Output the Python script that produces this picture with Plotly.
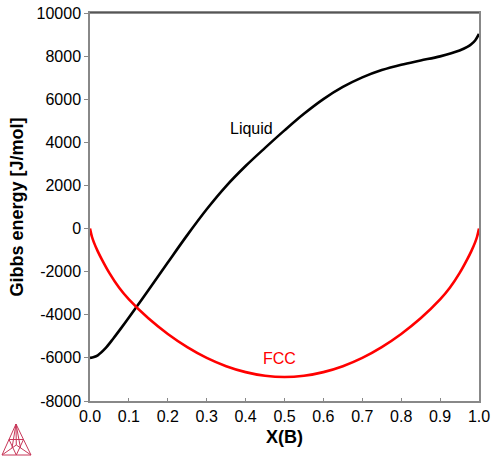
import plotly.graph_objects as go

# Liquid Gibbs energy curve (J/mol) vs X(B)
liq_x = [0.0, 0.01, 0.02, 0.04, 0.06, 0.08, 0.1, 0.15, 0.2, 0.25, 0.3, 0.35, 0.4, 0.45,
         0.5, 0.55, 0.6, 0.65, 0.7, 0.75, 0.8, 0.85, 0.9, 0.95, 0.97, 0.98, 0.99, 1.0]
liq_g = [-6000, -5960, -5880, -5550, -5100, -4620, -4125, -2860, -1575, -305, 895, 1970, 2900, 3742,
         4554, 5324, 6006, 6568, 7013, 7353, 7603, 7798, 7988, 8258, 8426, 8546, 8726, 9030]

# FCC Gibbs energy curve (J/mol) vs X(B)
fcc_x = [0.0, 0.005, 0.01, 0.02, 0.03, 0.05, 0.075, 0.1, 0.15, 0.2, 0.25, 0.3, 0.35, 0.4, 0.45, 0.5,
         0.55, 0.6, 0.65, 0.7, 0.75, 0.8, 0.85, 0.9, 0.925, 0.95, 0.97, 0.98, 0.99, 0.995, 1.0]
fcc_g = [0, -380, -640, -1060, -1420, -2070, -2750, -3290, -4165, -4890, -5500, -6000, -6385, -6660, -6830, -6890,
         -6830, -6660, -6385, -6000, -5500, -4890, -4165, -3290, -2750, -2070, -1420, -1060, -640, -380, 0]

x_ticks = [0.0, 0.1, 0.2, 0.3, 0.4, 0.5, 0.6, 0.7, 0.8, 0.9, 1.0]
x_tick_text = ["0.0", "0.1", "0.2", "0.3", "0.4", "0.5", "0.6", "0.7", "0.8", "0.9", "1.0"]
y_ticks = [-8000, -6000, -4000, -2000, 0, 2000, 4000, 6000, 8000, 10000]
y_tick_text = ["-8000", "-6000", "-4000", "-2000", "0", "2000", "4000", "6000", "8000", "10000"]

FONT = "Liberation Sans, Arial, sans-serif"

fig = go.Figure()
fig.add_trace(go.Scatter(x=liq_x, y=liq_g, mode="lines",
                         line=dict(color="black", width=2.6, shape="spline", smoothing=1.0),
                         name="Liquid", hoverinfo="skip"))
fig.add_trace(go.Scatter(x=fcc_x, y=fcc_g, mode="lines",
                         line=dict(color="#ff0000", width=2.6, shape="spline", smoothing=1.0),
                         name="FCC", hoverinfo="skip"))

fig.add_annotation(x=0.415, y=4650, text="Liquid", showarrow=False,
                   font=dict(family=FONT, size=16, color="black"))
fig.add_annotation(x=0.487, y=-6050, text="FCC", showarrow=False,
                   font=dict(family=FONT, size=16, color="#ff0000"))

# top frame line (dark)
fig.add_shape(type="line", xref="paper", yref="paper", x0=0, x1=1, y0=1, y1=1,
              line=dict(color="#222222", width=1.2))

# Thermo-Calc style logo (bottom-left)
def px2paper(px, py):
    return (px - 90) / 389.0, (401 - py) / 388.0

A = (16, 424); B = (2, 455); C = (31, 455); O = (16.3, 445)
tri_lines = [(A, B), (B, C), (C, A), (A, O), (B, O), (C, O),
             ((9, 439.5), (23.5, 439.5)), ((9, 439.5), (16.3, 455)), ((23.5, 439.5), (16.3, 455)),
             ((16, 424), (12, 448)), ((16, 424), (20.5, 448))]
for p, q in tri_lines:
    x0, y0 = px2paper(*p)
    x1, y1 = px2paper(*q)
    fig.add_shape(type="line", xref="paper", yref="paper", x0=x0, y0=y0, x1=x1, y1=y1,
                  line=dict(color="#c8385a", width=1))

fig.update_layout(
    width=492, height=463,
    margin=dict(l=90, r=13, t=13, b=62, autoexpand=False),
    paper_bgcolor="white", plot_bgcolor="white",
    showlegend=False,
    font=dict(family=FONT, size=16, color="black"),
)
fig.update_xaxes(range=[0, 1], tickvals=x_ticks, ticktext=x_tick_text, showgrid=False, zeroline=False,
                 showline=True, linecolor="#888888", linewidth=1.5, mirror=True, automargin=False,
                 ticks="inside", ticklen=3, tickcolor="#888888",
                 tickfont=dict(family=FONT, size=16, color="black"),
                 title=dict(text="<b>X(B)</b>", font=dict(family=FONT, size=18, color="black"), standoff=6))
fig.update_yaxes(range=[-8000, 10000], tickvals=y_ticks, ticktext=y_tick_text, showgrid=False, zeroline=False,
                 showline=True, linecolor="#888888", linewidth=1.5, mirror=True, automargin=False,
                 ticks="outside", ticklen=4, tickcolor="#888888",
                 tickfont=dict(family=FONT, size=16, color="black"),
                 title=dict(text="<b>Gibbs energy [J/mol]</b>", font=dict(family=FONT, size=18, color="black"), standoff=8))

fig.write_html("out.html")
